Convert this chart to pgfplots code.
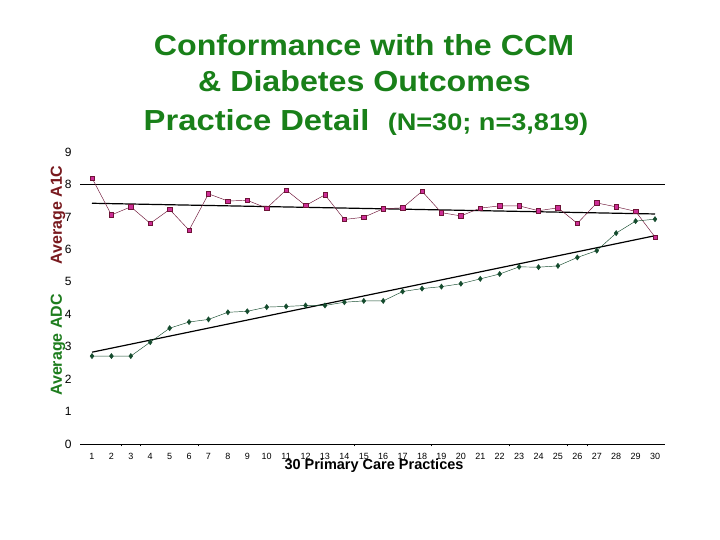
\documentclass[border=0pt]{standalone}
\usepackage{pgfplots}
\pgfplotsset{compat=1.18}
\usepackage{graphicx}
\usepackage{fontspec}
\setmainfont{Liberation Sans}
\definecolor{titlegreen}{RGB}{25,128,25}
\definecolor{aonec}{RGB}{120,25,30}
\definecolor{adcgreen}{RGB}{30,125,30}
\definecolor{sqfill}{RGB}{205,45,150}
\definecolor{sqline}{RGB}{110,20,55}
\definecolor{dgreen}{RGB}{20,75,45}
\begin{document}
\begin{tikzpicture}
\useasboundingbox (0pt,0pt) rectangle (720pt,540pt);
\fill[white] (0pt,0pt) rectangle (720pt,540pt);
\node[anchor=base, inner sep=0pt, font=\fontsize{29}{30}\selectfont\bfseries, text=titlegreen] at (364pt,484pt) {\scalebox{1.11}[1]{Conformance with the CCM}};
\node[anchor=base, inner sep=0pt, font=\fontsize{29}{30}\selectfont\bfseries, text=titlegreen] at (364.5pt,448.5pt) {\scalebox{1.11}[1]{\& Diabetes Outcomes}};
\node[anchor=base, inner sep=0pt, font=\fontsize{29}{30}\selectfont\bfseries, text=titlegreen] at (366pt,409pt) {\scalebox{1.13}[1]{Practice Detail\ \ {\fontsize{24}{26}\selectfont (N=30; n=3,819)}}};
\begin{axis}[
  at={(80pt,96pt)}, anchor=south west,
  scale only axis, width=585pt, height=292pt,
  xmin=0.382, xmax=30.515, ymin=0, ymax=9,
  axis x line*=bottom, axis y line*=left,
  x axis line style={-, black, line width=0.8pt},
  y axis line style={draw=none},
  xtick={1,...,30}, ytick={0,...,9},
  xtick style={draw=none}, ytick style={draw=none},
  extra x ticks={2.5,3.5,6.5,14.5,18.5,22.5,25.5,26.5},
  extra x tick labels={},
  extra x tick style={xtick style={draw=black, line width=0.6pt}, tick align=outside, major tick length=2.5pt},
  /pgf/number format/assume math mode=true,
  xticklabel style={font=\fontsize{9}{10}\selectfont, yshift=-5.5pt},
  yticklabel style={font=\fontsize{12}{13}\selectfont, xshift=-5pt},
  clip=false,
]
% reference line at 8
\addplot[black, line width=0.8pt] coordinates {(0.382,8) (30.515,8)};
% A1C trend
\addplot[black, line width=1.2pt] coordinates {(1,7.42) (30,7.09)};
% ADC trend
\addplot[black, line width=1.2pt] coordinates {(1,2.83) (30,6.42)};
% A1C data
\addplot[sqline, line width=0.45pt, mark=square*, mark size=2.2pt, mark options={fill=sqfill, draw=sqline, line width=0.5pt, solid}] coordinates {
(1,8.20)(2,7.06)(3,7.31)(4,6.80)(5,7.23)(6,6.59)(7,7.71)(8,7.49)(9,7.51)(10,7.27)
(11,7.83)(12,7.35)(13,7.68)(14,6.92)(15,6.99)(16,7.25)(17,7.28)(18,7.79)(19,7.13)(20,7.03)
(21,7.27)(22,7.34)(23,7.34)(24,7.19)(25,7.28)(26,6.80)(27,7.43)(28,7.31)(29,7.17)(30,6.38)};
% ADC data
\addplot[dgreen, line width=0.45pt, mark=diamond*, mark size=2.6pt, mark options={fill=dgreen, draw=dgreen, solid}] coordinates {
(1,2.71)(2,2.71)(3,2.71)(4,3.14)(5,3.57)(6,3.76)(7,3.84)(8,4.06)(9,4.09)(10,4.22)
(11,4.24)(12,4.27)(13,4.27)(14,4.37)(15,4.41)(16,4.41)(17,4.70)(18,4.79)(19,4.85)(20,4.94)
(21,5.09)(22,5.24)(23,5.46)(24,5.45)(25,5.49)(26,5.75)(27,5.96)(28,6.50)(29,6.87)(30,6.93)};
\end{axis}
\node[rotate=90, font=\fontsize{16}{17}\selectfont\bfseries, text=aonec] at (58pt,325pt) {Average A1C};
\node[rotate=90, font=\fontsize{16}{17}\selectfont\bfseries, text=adcgreen] at (58pt,195pt) {Average ADC};
\node[font=\fontsize{14.5}{15}\selectfont\bfseries] at (374pt,74pt) {30 Primary Care Practices};
\end{tikzpicture}
\end{document}
